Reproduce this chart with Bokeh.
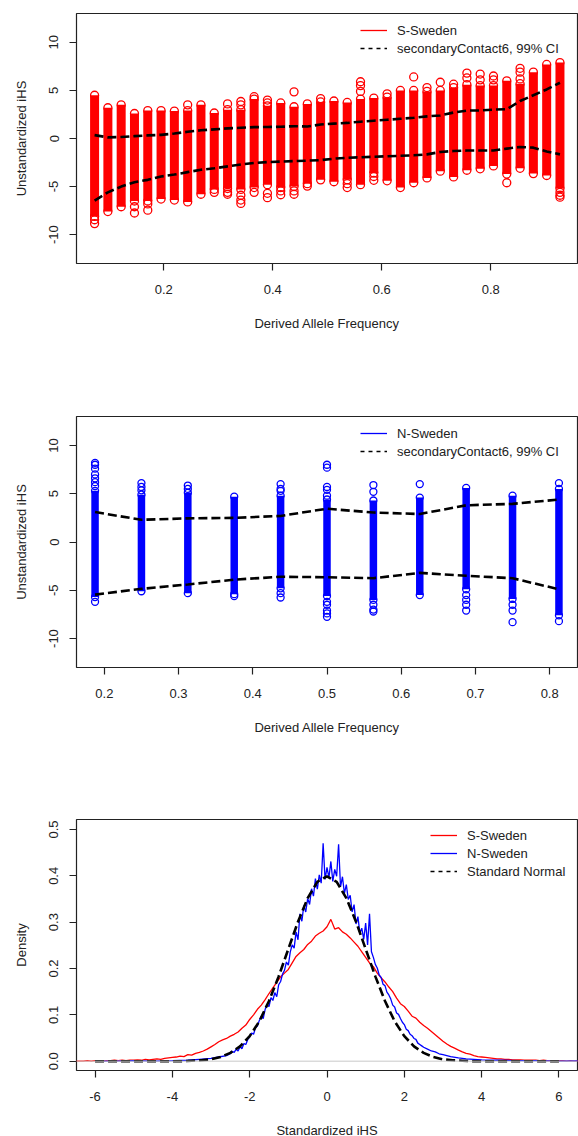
import numpy as np
from bokeh.plotting import figure
from bokeh.layouts import column
from bokeh.models import (ColumnDataSource, Range1d, FixedTicker, NumeralTickFormatter,
                          Legend, LegendItem, Span)
from bokeh.embed import file_html
from bokeh.resources import INLINE

FONT = "Liberation Sans"
INK = "#222222"
RED = "#ff0000"
BLUE = "#0000ff"

# ---------------- S-Sweden: unstandardized iHS by derived allele count ----------------
s_sample_size = 41
s_counts = [3, 4, 5, 6, 7, 8, 9, 10, 11, 12, 13, 14, 15, 16, 17, 18, 19, 20, 21, 22,
            23, 24, 25, 26, 27, 28, 29, 30, 31, 32, 33, 34, 35, 36, 37, 38]
# bulk of the iHS values in each frequency class (lowest, highest)
s_low = [-8.1, -7.6, -7.1, -6.5, -6.5, -6.3, -6.4, -6.6, -5.8, -5.3, -5.2, -5.3, -5.1, -4.8,
         -5.1, -5.0, -4.7, -4.3, -4.5, -4.3, -4.8, -3.6, -4.4, -5.1, -4.6, -4.1, -3.4, -4.0,
         -3.3, -3.15, -2.85, -3.7, -3.1, -3.65, -3.85, -5.2]
s_high = [4.5, 3.2, 3.5, 2.6, 2.9, 2.9, 2.85, 2.9, 3.5, 2.65, 3.0, 3.0, 4.1, 3.4, 3.7, 3.3,
          3.6, 3.8, 3.9, 3.75, 4.1, 4.2, 4.3, 5.0, 5.0, 4.9, 5.0, 5.3, 5.6, 5.5, 5.5, 6.0,
          5.7, 6.9, 7.7, 7.9]
# isolated values outside the bulk: (derived count, iHS)
s_out_count = [3, 3, 6, 6, 7, 7, 10, 12, 13, 13, 13, 14, 14, 14, 14, 14, 15, 15, 16, 16, 16,
               16, 17, 17, 18, 18, 18, 19, 20, 22, 22, 23, 23, 23, 24, 24, 25, 27, 28, 29,
               30, 31, 31, 32, 32, 33, 33, 34, 35, 35, 35, 38, 38, 38]
s_out_ihs = [-8.45, -8.85, -7.1, -7.75, -6.8, -7.45, 3.5, -5.6, 3.6, -5.6, -5.8, 3.85, 3.5,
             -5.9, -6.4, -6.75, 4.35, -5.6, 4.0, 3.7, -5.7, -6.15, -5.45, -5.85, 4.85, -5.45,
             -5.8, -4.95, 4.15, -4.7, -5.1, 5.9, 5.5, 4.9, -3.95, -4.35, 4.65, 6.4, 5.3, 5.85,
             5.65, 6.8, 6.3, 6.7, 6.1, 6.5, 6.1, -4.6, 7.3, 6.9, 6.2, -5.6, -5.9, -6.1]
# simulated (secondaryContact6) 99% interval per frequency class
s_ci_upper = [0.35, 0.12, 0.15, 0.25, 0.32, 0.38, 0.52, 0.7, 0.85, 0.95, 1.05, 1.12, 1.18,
              1.2, 1.22, 1.28, 1.25, 1.45, 1.55, 1.62, 1.75, 1.85, 1.95, 2.05, 2.15, 2.3,
              2.4, 2.7, 2.9, 2.92, 3.0, 3.05, 3.9, 4.5, 5.1, 5.8]
s_ci_lower = [-6.45, -5.6, -5.0, -4.55, -4.3, -3.95, -3.75, -3.5, -3.25, -3.1, -2.9, -2.7,
              -2.55, -2.45, -2.4, -2.35, -2.3, -2.25, -2.1, -2.0, -1.95, -1.9, -1.85, -1.8,
              -1.75, -1.65, -1.4, -1.3, -1.25, -1.25, -1.25, -1.05, -0.88, -0.95, -1.35, -1.65]

# ---------------- N-Sweden ----------------
n_sample_size = 16
n_counts = [3, 4, 5, 6, 7, 8, 9, 10, 11, 12, 13]
n_low = [-5.7, -5.1, -5.3, -5.4, -4.8, -5.6, -6.0, -5.5, -4.9, -5.9, -7.6]
n_high = [5.3, 4.9, 5.1, 4.7, 4.8, 4.4, 4.3, 4.6, 5.6, 4.8, 5.5]
n_out_count = [3, 3, 3, 3, 3, 3, 3, 3, 4, 4, 4, 5, 5, 6, 7, 7, 7, 7, 7, 8, 8, 8, 8, 8, 8, 8,
               8, 8, 8, 9, 9, 9, 9, 9, 10, 11, 11, 11, 11, 12, 12, 12, 13, 13]
n_out_ihs = [8.2, 8.0, 7.6, 7.0, 6.6, 6.2, 5.8, -6.2, 6.1, 5.7, 5.35, 5.85, 5.5, -5.6, 6.0,
             5.5, 5.3, -5.3, -5.75, 8.0, 7.7, 5.7, 5.4, 4.8, -6.2, -6.5, -7.1, -7.4, -7.75,
             5.9, 5.2, -6.5, -7.0, -7.2, 6.0, -5.5, -6.0, -6.5, -7.1, -6.5, -7.1, -8.3, 6.1,
             -8.2]
n_ci_upper = [3.1, 2.3, 2.45, 2.5, 2.7, 3.45, 3.05, 2.9, 3.8, 3.95, 4.4]
n_ci_lower = [-5.45, -4.85, -4.4, -3.9, -3.6, -3.65, -3.75, -3.2, -3.5, -3.75, -4.9]

# ---------------- densities of standardized iHS ----------------
red_x0, red_step = -6.6, 0.1
red_density = [0.000, 0.000, 0.000, 0.000, 0.001, 0.000, 0.001, 0.001, 0.000, 0.001, 0.001,
               0.002, 0.001, 0.002, 0.001, 0.002, 0.002,
               0.003, 0.002, 0.004, 0.003, 0.004, 0.005, 0.004, 0.006, 0.007, 0.008,
               0.009, 0.011, 0.010, 0.014, 0.013, 0.017, 0.019, 0.022, 0.026, 0.031,
               0.036, 0.042, 0.046, 0.049, 0.054, 0.058, 0.063, 0.071, 0.078, 0.090,
               0.100, 0.112, 0.121, 0.133, 0.146, 0.158, 0.170, 0.182, 0.190, 0.198,
               0.212, 0.226, 0.234, 0.241, 0.252, 0.259, 0.270, 0.276, 0.281, 0.290,
               0.306, 0.285, 0.288, 0.279, 0.274, 0.266, 0.257, 0.248, 0.236, 0.224,
               0.212, 0.204, 0.190, 0.180, 0.171, 0.160, 0.150, 0.136, 0.124, 0.118,
               0.108, 0.097, 0.093, 0.084, 0.077, 0.071, 0.064, 0.057, 0.050, 0.043,
               0.037, 0.032, 0.028, 0.024, 0.020, 0.017, 0.015, 0.012, 0.010, 0.009,
               0.008, 0.007, 0.006, 0.005, 0.005, 0.004, 0.004, 0.003, 0.003, 0.003,
               0.002, 0.002, 0.002, 0.002, 0.001, 0.002, 0.001, 0.001, 0.001, 0.001,
               0.001, 0.000, 0.001, 0.000, 0.001, 0.000]

blue_left_x = [-6.0, -5.5, -5.0, -4.5, -4.0, -3.6, -3.3, -3.0, -2.8, -2.6, -2.55]
blue_left = [0.000, 0.000, 0.001, 0.000, 0.001, 0.002, 0.004, 0.006, 0.009, 0.012, 0.014]
blue_mid_x0, blue_mid_step = -2.5, 0.05
blue_mid = [0.016, 0.021, 0.019, 0.026, 0.022, 0.031, 0.027, 0.038, 0.036, 0.047,
            0.052, 0.061, 0.058, 0.072, 0.076, 0.088, 0.097, 0.092, 0.112, 0.121,
            0.118, 0.137, 0.131, 0.148, 0.139, 0.165, 0.172, 0.188, 0.196, 0.214,
            0.207, 0.236, 0.251, 0.244, 0.279, 0.262, 0.318, 0.302, 0.336, 0.322,
            0.351, 0.338, 0.372, 0.356, 0.394, 0.371, 0.402, 0.384, 0.470, 0.392,
            0.418, 0.396, 0.431, 0.388, 0.414, 0.399, 0.468, 0.376, 0.398, 0.362,
            0.381, 0.349, 0.358, 0.322, 0.338, 0.296, 0.312, 0.276, 0.287, 0.263,
            0.298, 0.251, 0.318, 0.236, 0.224, 0.209, 0.201, 0.186, 0.181, 0.166,
            0.163, 0.149, 0.143, 0.134, 0.121, 0.117, 0.104, 0.101, 0.092, 0.084,
            0.079, 0.069, 0.066, 0.058, 0.055, 0.049, 0.047, 0.039, 0.036, 0.033,
            0.030]
blue_right_x = [2.6, 2.7, 2.8, 2.9, 3.0, 3.2, 3.4, 3.6, 3.8, 4.0, 4.5, 5.0, 5.5, 6.0, 6.6]
blue_right = [0.026, 0.022, 0.020, 0.016, 0.014, 0.010, 0.007, 0.005, 0.004, 0.003, 0.002,
              0.001, 0.001, 0.000, 0.001]

normal_x0, normal_step = -6.0, 0.25
normal_density = [0.000, 0.000, 0.000, 0.000, 0.000, 0.000, 0.000, 0.000, 0.000, 0.000,
                  0.001, 0.002, 0.004, 0.009, 0.018, 0.032, 0.054, 0.086, 0.130, 0.183,
                  0.242, 0.301, 0.352, 0.387, 0.399, 0.387, 0.352, 0.301, 0.242, 0.183,
                  0.130, 0.086, 0.054, 0.032, 0.018, 0.009, 0.004, 0.002, 0.001, 0.000,
                  0.000, 0.000, 0.000, 0.000, 0.000, 0.000, 0.000, 0.000, 0.000]

NAN2 = [float("nan"), float("nan")]


def style(p, xticks, yticks, xfmt, yfmt, xlabel, ylabel):
    p.outline_line_color = INK
    p.outline_line_width = 1.2
    p.outline_line_alpha = 1.0
    p.xgrid.visible = False
    p.ygrid.visible = False
    p.background_fill_color = "white"
    p.border_fill_color = "white"
    p.xaxis.ticker = FixedTicker(ticks=xticks)
    p.yaxis.ticker = FixedTicker(ticks=yticks)
    p.xaxis.formatter = NumeralTickFormatter(format=xfmt)
    p.yaxis.formatter = NumeralTickFormatter(format=yfmt)
    p.xaxis.axis_label = xlabel
    p.yaxis.axis_label = ylabel
    for ax in (p.xaxis[0], p.yaxis[0]):
        ax.axis_line_color = None
        ax.major_tick_in = 0
        ax.major_tick_out = 7
        ax.major_tick_line_color = INK
        ax.major_tick_line_width = 1.2
        ax.minor_tick_line_color = None
        ax.major_label_text_font = FONT
        ax.major_label_text_font_size = "13px"
        ax.major_label_text_color = INK
        ax.axis_label_text_font = FONT
        ax.axis_label_text_font_size = "13px"
        ax.axis_label_text_font_style = "normal"
        ax.axis_label_text_color = INK
    p.xaxis.major_label_standoff = 14
    p.xaxis.axis_label_standoff = 19
    p.yaxis.major_label_standoff = 11
    p.yaxis.axis_label_standoff = 18
    p.yaxis.major_label_orientation = "parallel"


def add_legend(p, items, loc):
    leg = Legend(items=items, location=loc, glyph_width=27, glyph_height=18,
                 label_height=18, label_standoff=10, spacing=0, padding=0, margin=0,
                 border_line_alpha=0, background_fill_alpha=0,
                 label_text_font=FONT, label_text_font_size="13px",
                 label_text_color=INK)
    p.add_layout(leg)


def ihs_panel(counts, n, low, high, out_counts, out_ihs, ci_up, ci_lo, color,
              xr, xticks, top, frame_h, bottom, name, bar_w, dot):
    freq = [c / n for c in counts]
    out_freq = [c / n for c in out_counts]
    p = figure(frame_width=501, frame_height=frame_h, min_border_left=76,
               min_border_right=1, min_border_top=top, min_border_bottom=bottom,
               x_range=Range1d(*xr), y_range=Range1d(-13, 13),
               output_backend="svg", toolbar_location=None)
    src = ColumnDataSource(dict(x=freq, lo=low, hi=high))
    p.segment(x0="x", y0="lo", x1="x", y1="hi", source=src, line_color=color,
              line_width=bar_w, line_cap="butt")
    p.scatter(x="x", y="lo", source=src, marker="circle", size=dot, fill_color=None,
              line_color=color, line_width=1.3)
    p.scatter(x="x", y="hi", source=src, marker="circle", size=dot, fill_color=None,
              line_color=color, line_width=1.3)
    p.scatter(x=out_freq, y=out_ihs, marker="circle", size=dot, fill_color=None,
              line_color=color, line_width=1.3)
    p.line(freq, ci_up, line_color="black", line_width=2.6, line_dash="9 4")
    p.line(freq, ci_lo, line_color="black", line_width=2.6, line_dash="9 4")
    style(p, xticks, [-10, -5, 0, 5, 10], "0.0", "0",
          "Derived Allele Frequency", "Unstandardized iHS")
    k1 = p.line(NAN2, NAN2, line_color=color, line_width=1.3)
    k2 = p.line(NAN2, NAN2, line_color="black", line_width=1.3, line_dash="4 4")
    add_legend(p, [LegendItem(label=name, renderers=[k1]),
                   LegendItem(label="secondaryContact6, 99% CI", renderers=[k2])],
               (284, frame_h - 17 - 27))
    return p


p1 = ihs_panel(s_counts, s_sample_size, s_low, s_high, s_out_count, s_out_ihs,
               s_ci_upper, s_ci_lower, RED, (0.040, 0.959), [0.2, 0.4, 0.6, 0.8],
               13, 250, 137, "S-Sweden", 9, 8)
p2 = ihs_panel(n_counts, n_sample_size, n_low, n_high, n_out_count, n_out_ihs,
               n_ci_upper, n_ci_lower, BLUE, (0.1625, 0.8375),
               [0.2, 0.3, 0.4, 0.5, 0.6, 0.7, 0.8], 16, 251, 133, "N-Sweden", 7.5, 7)

# density panel
red_x = [red_x0 + i * red_step for i in range(len(red_density))]
blue_x = blue_left_x + [blue_mid_x0 + i * blue_mid_step for i in range(len(blue_mid))] + blue_right_x
blue_y = blue_left + blue_mid + blue_right
norm_x = [normal_x0 + i * normal_step for i in range(len(normal_density))]

p3 = figure(frame_width=501, frame_height=251, min_border_left=76, min_border_right=1,
            min_border_top=19, min_border_bottom=66,
            x_range=Range1d(-6.48, 6.48), y_range=Range1d(-0.0201, 0.5215),
            output_backend="svg", toolbar_location=None)
p3.add_layout(Span(location=0, dimension="width", line_color="#c8c8c8", line_width=1))
r_red = p3.line(red_x, red_density, line_color=RED, line_width=1.3)
r_blue = p3.line(blue_x, blue_y, line_color=BLUE, line_width=1.3)
p3.line(norm_x, normal_density, line_color="black", line_width=2.6, line_dash="9 4")
style(p3, [-6, -4, -2, 0, 2, 4, 6], [0, 0.1, 0.2, 0.3, 0.4, 0.5], "0", "0.0",
      "Standardized iHS", "Density")
k_norm = p3.line(NAN2, NAN2, line_color="black", line_width=1.3, line_dash="4 4")
add_legend(p3, [LegendItem(label="S-Sweden", renderers=[r_red]),
                LegendItem(label="N-Sweden", renderers=[r_blue]),
                LegendItem(label="Standard Normal", renderers=[k_norm])],
           (354, 251 - 16 - 45))

layout = column(p1, p2, p3, spacing=0)
open("out.html", "w").write(file_html(layout, INLINE))
